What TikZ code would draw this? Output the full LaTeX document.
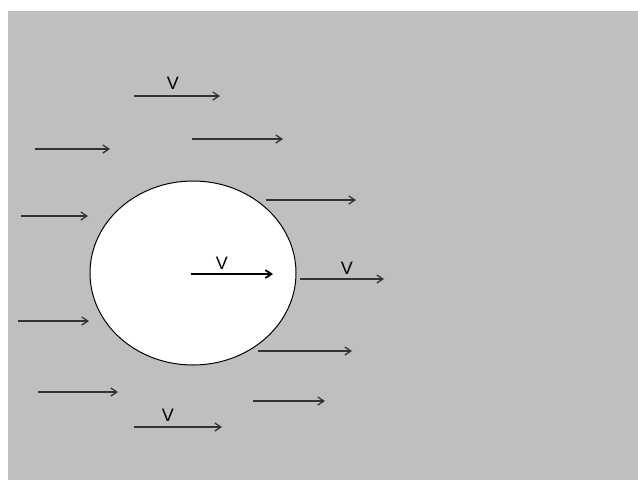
\documentclass[tikz,border=0pt]{standalone}
\usepackage{fontspec}
\setmainfont{Liberation Sans}
\usetikzlibrary{positioning,arrows.meta,shapes.geometric}

\begin{document}
\begin{tikzpicture}[
    x=1pt, y=-1pt,
    bg/.style={fill=black!25, draw=none},
    ball/.style={fill=white, draw=black, line width=1pt},
    flow/.style={-{Straight Barb[length=6pt,width=8pt]}, line width=1.3pt, black!80},
    lbl/.style={font=\fontsize{18}{20}\selectfont, inner sep=0pt},
]
\useasboundingbox (0,0) rectangle (638,480);
\fill[bg] (8,11) rectangle (638,480);
\node[ball, ellipse, minimum width=206pt, minimum height=184pt, inner sep=0pt] (ball) at (193,273) {};
% velocity arrows
\foreach \n/\xa/\xb/\y in {a/134/220/96, b/192/283/139, c/35/110/149, d/21/88/216,
    e/266/356/200, g/300/384/279, h/18/89/321, i/258/352/351,
    j/38/118/392, k/253/325/401, l/134/222/427} {
  \coordinate (\n0) at (\xa,\y);
  \coordinate (\n1) at (\xb,\y);
  \draw[flow] (\n0) -- (\n1);
}
% arrow inside the ball
\coordinate (f0) at (191,274);
\coordinate (f1) at (273,274);
\draw[flow, line width=1.8pt, black] (f0) -- (f1);
\node[lbl] (va) at (173,83) {V};
\node[lbl] (vf) at (222,263) {V};
\node[lbl] (vg) at (347,268) {V};
\node[lbl] (vl) at (168,415) {V};
\end{tikzpicture}
\end{document}
